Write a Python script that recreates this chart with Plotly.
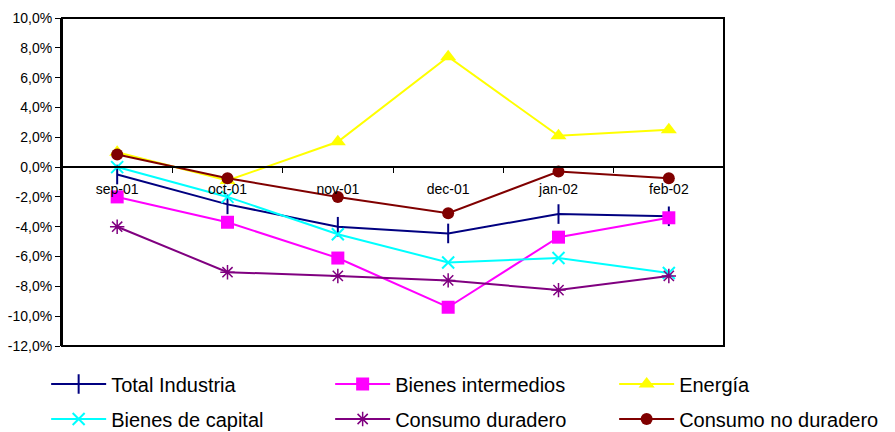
import plotly.graph_objects as go

# Monthly year-on-year change (%) by industrial sector
months = ["sep-01", "oct-01", "nov-01", "dec-01", "jan-02", "feb-02"]

total_industria = [-0.5, -2.5, -4.0, -4.45, -3.15, -3.3]
bienes_intermedios = [-2.0, -3.7, -6.1, -9.4, -4.7, -3.4]
energia = [1.0, -0.9, 1.7, 7.4, 2.1, 2.5]
bienes_capital = [0.0, -2.0, -4.5, -6.4, -6.1, -7.1]
consumo_duradero = [-4.0, -7.05, -7.3, -7.6, -8.25, -7.3]
consumo_no_duradero = [0.85, -0.75, -2.0, -3.1, -0.3, -0.75]

y_ticks = [10, 8, 6, 4, 2, 0, -2, -4, -6, -8, -10, -12]
y_tick_text = [f"{v:.1f}%".replace(".", ",") for v in y_ticks]

# (name, values, colour, marker, legend row)
series = [
    ("Total Industria", total_industria, "#000080",
     dict(symbol="line-ns", size=14, line=dict(width=2, color="#000080")), "legend"),
    ("Bienes intermedios", bienes_intermedios, "#FF00FF",
     dict(symbol="square", size=13, color="#FF00FF"), "legend"),
    ("Energía", energia, "#FFFF00",
     dict(symbol="triangle-up", size=14, color="#FFFF00"), "legend"),
    ("Bienes de capital", bienes_capital, "#00FFFF",
     dict(symbol="x-thin", size=12, line=dict(width=2, color="#00FFFF")), "legend2"),
    ("Consumo duradero", consumo_duradero, "#800080",
     dict(symbol="asterisk", size=12, line=dict(width=1.5, color="#800080")), "legend2"),
    ("Consumo no duradero", consumo_no_duradero, "#800000",
     dict(symbol="circle", size=12, color="#800000"), "legend2"),
]

fig = go.Figure()
for name, values, color, marker, legend in series:
    fig.add_trace(go.Scatter(
        x=months, y=values, name=name, mode="lines+markers",
        line=dict(color=color, width=2), marker=marker, legend=legend,
    ))

W, H = 895, 432
ML, MR, MT, MB = 47, 0, 18, 86
plot_left, plot_right = 62, 724
gw = W - ML - MR
gh = H - MT - MB
x_domain = [(plot_left - ML) / gw, (plot_right - ML) / gw]

y_min, y_max = -12, 10
zero_pos = (0 - y_min) / (y_max - y_min)

legend_common = dict(
    orientation="h", x=-0.001, xanchor="left", yanchor="middle",
    entrywidth=214, entrywidthmode="pixels", itemwidth=55,
    font=dict(size=20, color="black"), bgcolor="rgba(0,0,0,0)",
)

fig.update_layout(
    width=W, height=H,
    margin=dict(l=ML, r=MR, t=MT, b=MB, autoexpand=False),
    paper_bgcolor="white", plot_bgcolor="white",
    font=dict(family="Liberation Sans, Arial", color="black", size=14),
    showlegend=True,
    legend=dict(legend_common, y=(MT + gh - 384) / gh),
    legend2=dict(legend_common, y=(MT + gh - 419) / gh),
    xaxis=dict(
        type="category", range=[-0.5, 5.5], domain=x_domain,
        anchor="free", position=zero_pos,
        showline=True, linecolor="black", linewidth=1.5,
        ticks="outside", tickson="boundaries", ticklen=5, tickcolor="black",
        showgrid=False, zeroline=False, automargin=False,
        tickfont=dict(size=14), ticklabelstandoff=9,
    ),
    yaxis=dict(
        range=[y_min, y_max], tickvals=y_ticks, ticktext=y_tick_text,
        showline=True, linecolor="black", linewidth=2,
        ticks="outside", ticklen=5, tickcolor="black",
        showgrid=False, zeroline=False, automargin=False,
        tickfont=dict(size=14),
    ),
    shapes=[dict(type="rect", xref="x domain", yref="y domain",
                 x0=0, x1=1, y0=0, y1=1,
                 line=dict(color="black", width=2))],
)

fig.write_html("out.html")
